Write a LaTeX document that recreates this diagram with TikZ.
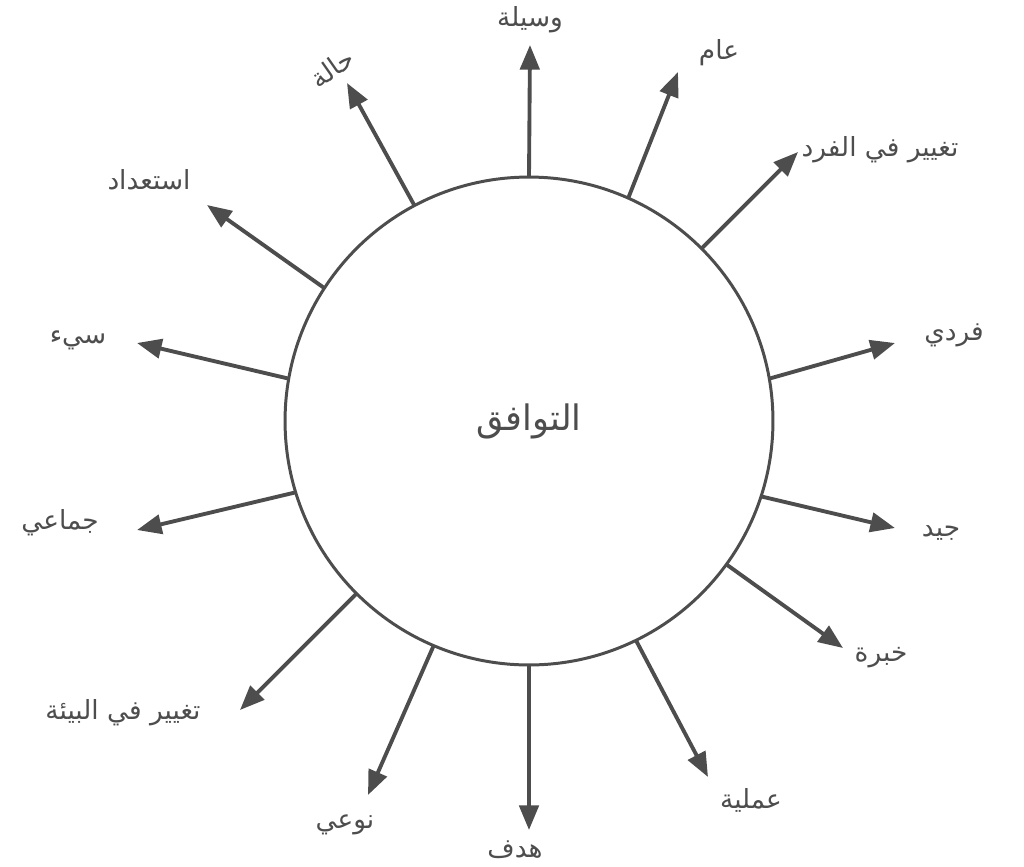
\documentclass[tikz,border=0pt]{standalone}
\usepackage{fontspec}
\newfontfamily\arabicfont[Script=Arabic]{DejaVu Sans}
\TeXXeTstate=1
\usetikzlibrary{arrows.meta}
\definecolor{ink}{HTML}{4D4D4D}

\begin{document}
\begin{tikzpicture}[x=0.02cm,y=-0.02cm,
    spoke/.style={draw=ink, line width=2.2pt, -{Triangle[length=14pt,width=11pt]}},
    lbl/.style={text=ink, inner sep=1pt, font=\fontsize{15}{18}\selectfont\arabicfont}]
  \useasboundingbox (0,0) rectangle (1024,866);
  % central circle
  \node[circle, draw=ink, line width=1.7pt, inner sep=0pt, outer sep=0pt,
        minimum size=9.76cm, text=ink, font=\fontsize{20}{24}\selectfont\arabicfont]
        (hub) at (529,421) {\beginR التوافق\endR};
  % spokes: angle / tip / label / rotation / text
  \foreach \a/\tx/\ty/\lx/\ly/\rot/\txt [count=\i] in {
      90/530/45/530/20/0/وسيلة,
      66.6/678/72/719/53/0/عام,
      45/798/152/880/150/0/تغيير في الفرد,
      10.8/895/343/954/335/0/فردي,
      -18/895/528/941/533/0/جيد,
      -36.6/843/648/881/658/0/خبرة,
      -64/708/777/751/800/0/عملية,
      -90/529/830/515/850/0/هدف,
      -113/368/795/345/825/0/نوعي,
      -135/240/710/123/713/0/تغيير في البيئة,
      -163/137/530/60/523/0/جماعي,
      170.4/137/343/78/340/0/سيء,
      147/207/205/149/180/0/استعداد,
      118.6/347/83/332/68/35/حالة}
  {
    \coordinate (tip\i) at (\tx,\ty);
    \node[lbl, rotate=\rot] (lab\i) at (\lx,\ly) {\beginR\txt\endR};
    \draw[spoke] (hub.\a) -- (tip\i);
  }
\end{tikzpicture}
\end{document}
